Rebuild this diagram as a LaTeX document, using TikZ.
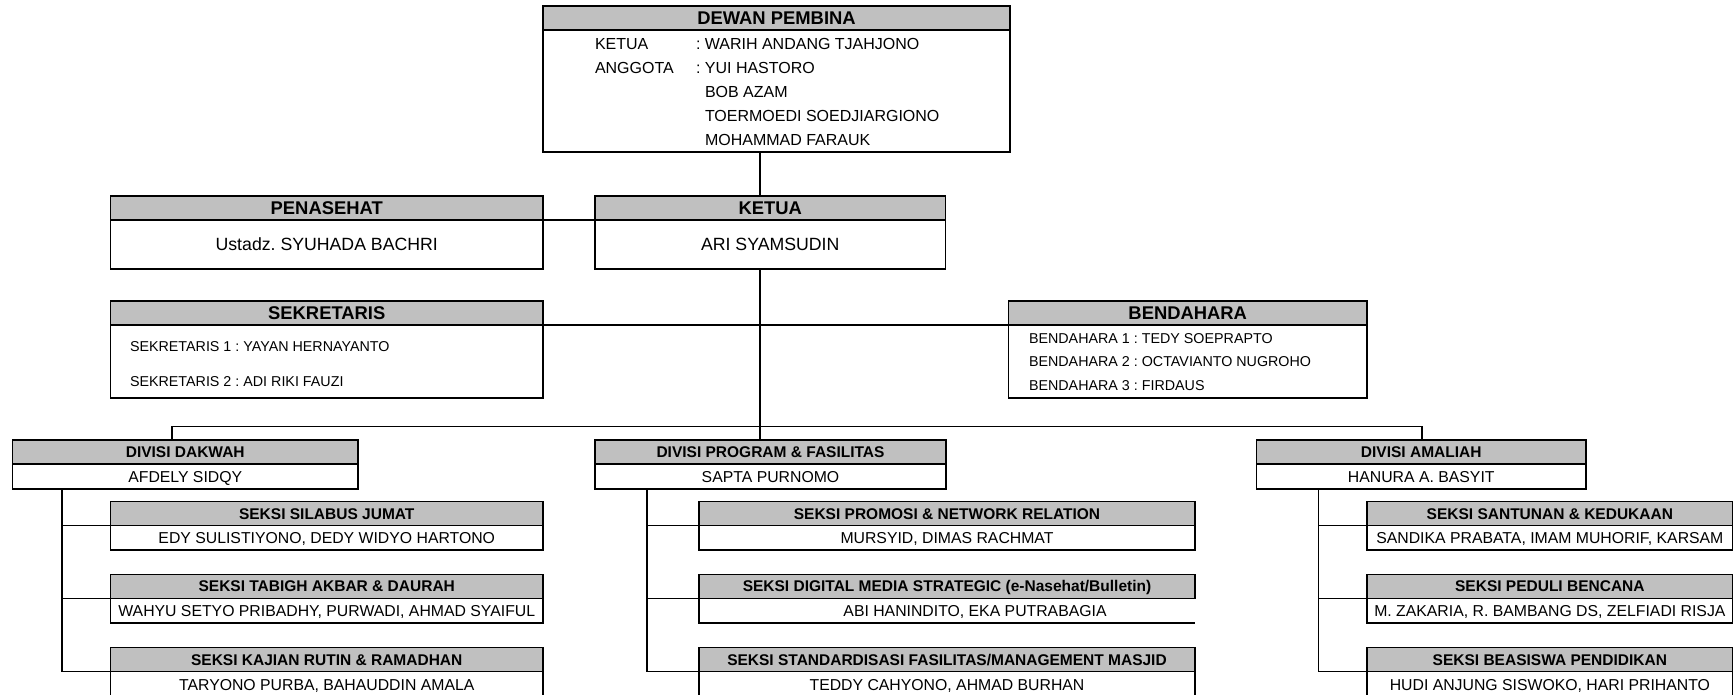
\documentclass[tikz,border=0pt]{standalone}
\usepackage{fontspec}
\setmainfont{Liberation Sans}
\definecolor{hdrgray}{RGB}{192,192,192}
\tikzset{
 every node/.style={inner sep=0pt, outer sep=0pt},
 boxline/.style={draw=black, line width=1.2pt},
 bigH/.style={boxline, fill=hdrgray, font=\fontsize{18.4}{20}\selectfont\bfseries, text height=13.2pt, text depth=0pt},
 bigB/.style={boxline, fill=white, font=\fontsize{17.7}{20}\selectfont, text height=12.7pt, text depth=0pt},
 smlH/.style={boxline, fill=hdrgray, font=\fontsize{15.5}{18}\selectfont\bfseries, text height=11.1pt, text depth=0pt},
 smlB/.style={boxline, fill=white, font=\fontsize{15.8}{18}\selectfont, text height=11.3pt, text depth=0pt},
 smlT/.style={font=\fontsize{15.8}{18}\selectfont, text height=11.3pt, text depth=0pt},
 dtxt/.style={font=\fontsize{16}{18}\selectfont, text height=11.5pt, text depth=0pt, anchor=west},
 stxt/.style={font=\fontsize{14.3}{16}\selectfont, text height=10.2pt, text depth=0pt, anchor=west},
 link/.style={draw=black, line width=1.1pt},
}
\newcommand{\twobox}[9]{%
 \node[#7H, anchor=north west, minimum width=#4-#2, minimum height=#5-#3] (#1H) at (#2,#3) {#8};
 \node[#7B, anchor=north west, minimum width=#4-#2, minimum height=#6-#5] (#1B) at (#2,#5) {#9};
}
\frenchspacing
\begin{document}
\frenchspacing
\begin{tikzpicture}[x=1pt, y=-1pt]
\useasboundingbox (0,0) rectangle (1734,694);
\fill[white] (0,0) rectangle (1734,694);

% top level
\twobox{dewan}{543}{6}{1010}{30}{152}{big}{DEWAN PEMBINA}{}
\node[dtxt] (dk) at (595,44) {KETUA};
\node[dtxt] (dkn) at (696,44) {: WARIH ANDANG TJAHJONO};
\node[dtxt] (da) at (595,68) {ANGGOTA};
\node[dtxt] (dan) at (696,68) {: YUI HASTORO};
\node[dtxt] (d3) at (705,92) {BOB AZAM};
\node[dtxt] (d4) at (705,116) {TOERMOEDI SOEDJIARGIONO};
\node[dtxt] (d5) at (705,140) {MOHAMMAD FARAUK};

\twobox{pen}{110.5}{196}{543}{220}{269}{big}{PENASEHAT}{Ustadz. SYUHADA BACHRI}
\twobox{ketua}{595}{196}{945.5}{220}{269}{big}{KETUA}{ARI SYAMSUDIN}

\twobox{sek}{110.5}{301}{543}{325}{398}{big}{SEKRETARIS}{}
\node[stxt] (s1) at (130,346) {SEKRETARIS 1 : YAYAN HERNAYANTO};
\node[stxt] (s2) at (130,381) {SEKRETARIS 2 : ADI RIKI FAUZI};

\twobox{ben}{1008.5}{301}{1367}{325}{398}{big}{BENDAHARA}{}
\node[stxt] (b1) at (1029,338) {BENDAHARA 1 : TEDY SOEPRAPTO};
\node[stxt] (b2) at (1029,361.5) {BENDAHARA 2 : OCTAVIANTO NUGROHO};
\node[stxt] (b3) at (1029,385) {BENDAHARA 3 : FIRDAUS};

% divisions
\twobox{dak}{12.5}{440}{358}{464}{489}{sml}{DIVISI DAKWAH}{AFDELY SIDQY}
\twobox{prog}{595}{440}{946}{464}{489}{sml}{DIVISI PROGRAM \& FASILITAS}{SAPTA PURNOMO}
\twobox{amal}{1256.5}{440}{1586}{464}{489}{sml}{DIVISI AMALIAH}{HANURA A. BASYIT}

% seksi dakwah
\twobox{sil}{110.5}{501.5}{543}{525.7}{550}{sml}{SEKSI SILABUS JUMAT}{EDY SULISTIYONO, DEDY WIDYO HARTONO}
\twobox{tab}{110.5}{574.3}{543}{598.3}{623}{sml}{SEKSI TABIGH AKBAR \& DAURAH}{WAHYU SETYO PRIBADHY, PURWADI, AHMAD SYAIFUL}
\twobox{kaj}{110.5}{647.7}{543}{671.7}{697}{sml}{SEKSI KAJIAN RUTIN \& RAMADHAN}{TARYONO PURBA, BAHAUDDIN AMALA}

% seksi program
\twobox{pro}{699}{501.5}{1195}{525.7}{550}{sml}{SEKSI PROMOSI \& NETWORK RELATION}{MURSYID, DIMAS RACHMAT}
\node[smlH, anchor=north west, minimum width=496, minimum height=24] (dmH) at (699,574.3) {SEKSI DIGITAL MEDIA STRATEGIC (e-Nasehat/Bulletin)};
\node[fill=white, anchor=north west, minimum width=496, minimum height=24.7] (dmB) at (699,598.3) {};
\draw[boxline] (dmB.north east) -- (dmB.north west) -- (dmB.south west) -- (dmB.south east);
\node[smlT] (dmT) at (975,610.6) {ABI HANINDITO, EKA PUTRABAGIA};
\twobox{std}{699}{647.7}{1195}{671.7}{697}{sml}{SEKSI STANDARDISASI FASILITAS/MANAGEMENT MASJID}{TEDDY CAHYONO, AHMAD BURHAN}

% seksi amaliah
\twobox{san}{1367}{501.5}{1732.7}{525.7}{550}{sml}{SEKSI SANTUNAN \& KEDUKAAN}{SANDIKA PRABATA, IMAM MUHORIF, KARSAM}
\twobox{ped}{1367}{574.3}{1732.7}{598.3}{623}{sml}{SEKSI PEDULI BENCANA}{M. ZAKARIA, R. BAMBANG DS, ZELFIADI RISJA}
\twobox{bea}{1367}{647.7}{1732.7}{671.7}{697}{sml}{SEKSI BEASISWA PENDIDIKAN}{HUDI ANJUNG SISWOKO, HARI PRIHANTO}

% connectors
\coordinate (spine) at (760,0);
\draw[link] (dewanB.south -| spine) -- (ketuaH.north -| spine);
\draw[link] (penH.south east) -- (ketuaH.south west);
\draw[link] (ketuaB.south -| spine) -- (progH.north -| spine);
\draw[link] (sekH.south east) -- (benH.south west);
\coordinate (busL) at (172,426.5);
\coordinate (busR) at (1422,426.5);
\draw[link] (dakH.north -| busL) -- (busL) -- (busR) -- (amalH.north -| busR);

\coordinate (brD) at (62,0);
\draw[link] (dakB.south -| brD) |- (kajH.south west);
\draw[link] (silH.south west) -- (silH.south west -| brD);
\draw[link] (tabH.south west) -- (tabH.south west -| brD);

\coordinate (brP) at (647,0);
\draw[link] (progB.south -| brP) |- (stdH.south west);
\draw[link] (proH.south west) -- (proH.south west -| brP);
\draw[link] (dmH.south west) -- (dmH.south west -| brP);

\coordinate (brA) at (1318.3,0);
\draw[link] (amalB.south -| brA) |- (beaH.south west);
\draw[link] (sanH.south west) -- (sanH.south west -| brA);
\draw[link] (pedH.south west) -- (pedH.south west -| brA);
\end{tikzpicture}
\end{document}
